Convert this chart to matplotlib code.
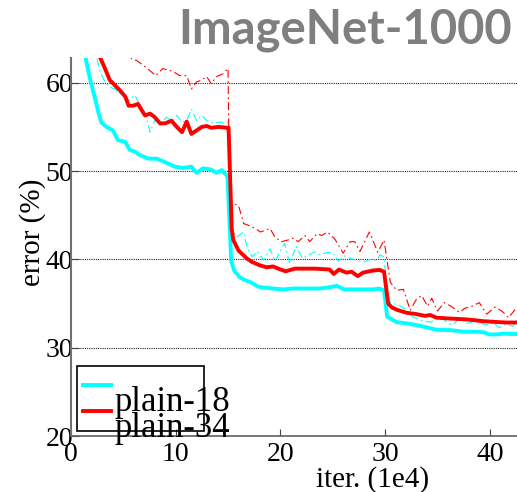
import numpy as np
import matplotlib.pyplot as plt
from matplotlib.legend_handler import HandlerLine2D
from matplotlib.patches import Rectangle

# plain-18, validation (bold cyan)
p18_val_x = [1.0, 1.4, 1.8, 2.3, 2.6, 2.9, 3.4, 4.0, 4.5, 5.2, 5.6, 6.1, 6.6, 7.4, 8.2, 9.0,
             9.9, 10.7, 11.5, 12.0, 12.6, 13.3, 13.9, 14.4, 14.95, 15.3, 15.6, 16.1, 16.6, 17.1,
             17.9, 18.4, 19.3, 20.3, 21.2, 22.2, 23.1, 23.8, 24.5, 25.4, 26.1, 27.0, 27.9, 28.9,
             29.4, 29.9, 30.2, 30.5, 31.1, 31.7, 32.4, 33.0, 33.6, 34.3, 34.9, 35.6, 36.2, 36.9,
             37.5, 38.2, 38.8, 39.4, 40.0, 40.7, 41.3, 42.0, 42.6]
p18_val_y = [67.0, 62.8, 60.5, 58.2, 56.7, 55.5, 55.0, 54.6, 53.5, 53.3, 52.4, 52.2, 51.8, 51.4,
             51.4, 51.0, 50.5, 50.35, 50.5, 49.8, 50.3, 50.2, 49.8, 50.1, 49.4, 39.8, 38.7, 38.0,
             37.65, 37.45, 36.9, 36.8, 36.7, 36.6, 36.7, 36.7, 36.7, 36.7, 36.8, 37.0, 36.6, 36.6,
             36.6, 36.6, 36.7, 36.5, 33.5, 33.3, 32.9, 32.8, 32.7, 32.55, 32.4, 32.2, 32.05, 32.0,
             32.0, 31.9, 31.8, 31.8, 31.8, 31.75, 31.5, 31.5, 31.6, 31.55, 31.55]

# plain-34, validation (bold red)
p34_val_x = [2.5, 2.77, 3.25, 3.7, 4.2, 4.7, 5.2, 5.5, 5.95, 6.4, 6.75, 7.07, 7.55, 8.0, 8.5,
             9.0, 9.6, 10.1, 10.6, 11.05, 11.5, 12.0, 12.5, 12.95, 13.4, 14.1, 14.9, 15.05, 15.35,
             15.5, 16.0, 16.8, 17.3, 18.1, 18.7, 19.3, 19.8, 20.5, 21.4, 22.5, 23.3, 24.7, 25.1,
             25.6, 26.3, 26.8, 27.4, 27.9, 28.9, 29.5, 29.9, 30.3, 30.6, 31.1, 32.05, 33.0, 33.8,
             34.3, 34.9, 36.2, 37.8, 39.4, 40.7, 41.6, 42.6]
p34_val_y = [64.5, 62.9, 61.6, 60.3, 59.7, 59.1, 58.4, 57.4, 57.4, 57.6, 56.9, 56.3, 56.5, 56.1,
             55.4, 55.4, 55.7, 55.0, 54.4, 55.6, 54.2, 54.6, 55.0, 55.1, 54.9, 55.0, 54.9, 54.9,
             43.5, 42.2, 41.0, 40.1, 39.7, 39.3, 39.1, 39.2, 38.95, 38.65, 38.95, 38.95, 38.95,
             38.85, 38.35, 38.85, 38.5, 38.6, 38.1, 38.5, 38.75, 38.8, 38.6, 35.0, 34.6, 34.3,
             33.95, 33.8, 33.6, 33.7, 33.4, 33.3, 33.2, 33.0, 32.9, 32.85, 32.85]

# plain-18, training (thin cyan)
p18_train_x = [2.2, 2.45, 2.8, 3.2, 3.7, 4.2, 4.85, 5.5, 6.1, 6.6, 7.1, 7.55, 8.0, 8.6, 9.1, 9.6,
               10.1, 10.6, 11.05, 11.5, 12.0, 12.5, 13.0, 13.6, 14.2, 14.7, 15.0, 15.2, 15.5, 15.8,
               16.5, 16.8, 17.3, 17.8, 18.4, 19.0, 19.5, 20.0, 20.4, 20.9, 21.5, 22.1, 22.7, 23.3,
               23.8, 24.5, 25.05, 25.5, 26.1, 26.7, 27.3, 27.9, 28.6, 29.2, 29.5, 29.9, 30.3, 30.8,
               31.5, 32.1, 32.6, 33.1, 33.65, 34.4, 35.0, 35.7, 36.4, 37.1, 37.9, 38.7, 39.4, 40.0,
               40.3, 40.9, 41.6, 42.2, 42.6]
p18_train_y = [64.5, 62.9, 61.2, 60.2, 59.5, 59.3, 58.6, 58.0, 58.6, 57.4, 56.5, 54.4, 55.75,
               55.3, 56.1, 55.7, 56.3, 55.55, 55.7, 57.0, 55.7, 56.3, 55.7, 55.4, 55.55, 55.4,
               55.55, 44.5, 43.3, 42.5, 43.1, 41.4, 40.3, 40.9, 39.9, 41.2, 39.8, 41.0, 41.8, 39.5,
               41.5, 40.1, 40.5, 40.85, 40.5, 40.8, 40.7, 39.8, 40.4, 40.1, 39.9, 39.7, 40.0, 39.9,
               40.5, 40.3, 35.2, 35.0, 34.7, 34.2, 33.5, 33.3, 33.0, 32.9, 33.45, 33.1, 32.55, 33.3,
               32.75, 33.1, 32.7, 32.55, 32.9, 32.25, 32.7, 32.4, 33.1]

# plain-34, training (thin red)
p34_train_x = [5.3, 5.8, 6.3, 7.1, 8.1, 8.75, 9.7, 10.4, 11.05, 11.5, 12.0, 12.5, 12.95, 13.4,
               13.9, 14.5, 15.0, 15.15, 15.5, 16.0, 16.5, 17.3, 18.1, 19.0, 19.5, 20.1, 20.75,
               21.2, 21.7, 22.35, 22.8, 23.5, 23.95, 24.5, 25.2, 26.0, 26.65, 27.1, 27.6, 28.5,
               29.3, 29.9, 30.5, 31.1, 31.75, 32.4, 33.0, 33.5, 34.05, 34.45, 35.0, 35.65, 36.3,
               37.1, 37.6, 38.3, 39.0, 39.7, 40.5, 41.2, 41.8, 42.6]
p34_train_y = [64.0, 62.7, 62.5, 61.8, 60.8, 61.6, 61.3, 60.8, 60.8, 59.3, 60.1, 60.3, 60.7, 59.9,
               60.7, 61.0, 61.6, 46.2, 46.3, 46.1, 44.05, 43.7, 43.1, 43.5, 42.5, 42.0, 42.2, 42.4,
               42.0, 42.7, 42.0, 42.9, 42.7, 43.1, 42.3, 40.7, 42.0, 42.0, 40.9, 43.1, 40.8, 42.2,
               37.4, 36.5, 36.6, 34.25, 35.5, 35.9, 34.7, 35.6, 34.15, 35.1, 34.7, 34.0, 34.45,
               34.7, 35.1, 33.8, 34.6, 34.1, 33.4, 34.6]

x_ticks = [0, 10, 20, 30, 40]
y_ticks = [20, 30, 40, 50, 60]

CYAN = "#00ffff"
RED = "#ff0000"
dashdot = (0, (7, 3, 1.5, 3))

plt.rcParams["font.family"] = ["Liberation Serif", "DejaVu Serif"]

fig = plt.figure(figsize=(5.17, 4.92), dpi=100)
ax = fig.add_axes([71 / 517, 56 / 492, 446 / 517, 378 / 492])

ax.plot(p18_train_x, p18_train_y, color=CYAN, lw=0.8, linestyle=dashdot)
ax.plot(p34_train_x, p34_train_y, color=RED, lw=0.8, linestyle=dashdot)
l18, = ax.plot(p18_val_x, p18_val_y, color=CYAN, lw=2.8, solid_joinstyle="round")
l34, = ax.plot(p34_val_x, p34_val_y, color=RED, lw=2.8, solid_joinstyle="round")

ax.set_xlim(0, 42.6)
ax.set_ylim(20, 62.8)
ax.set_xticks(x_ticks)
ax.set_yticks(y_ticks)
ax.tick_params(axis="both", direction="in", labelsize=20, color="#404040")
ax.tick_params(axis="y", length=6, pad=-1.5)
ax.tick_params(axis="x", length=5, pad=4)

ax.yaxis.grid(True, color="#222222", linestyle=(0, (1, 1)), lw=0.8)
for side in ["top", "right"]:
    ax.spines[side].set_visible(False)
ax.spines["left"].set_color("#707070")
ax.spines["left"].set_linewidth(1.5)
ax.spines["bottom"].set_color("#606060")
ax.spines["bottom"].set_linewidth(1.2)

ax.set_xlabel("iter. (1e4)", fontsize=21)
ax.xaxis.set_label_coords(0.677, -0.08)
ax.set_ylabel("error (%)", fontsize=21)
ax.yaxis.set_label_coords(-0.055, 0.54)


class RaisedLine(HandlerLine2D):
    # legend swatch sits at the top of its label, as in the original
    def create_artists(self, legend, orig_handle, xdescent, ydescent, width, height, fontsize, trans):
        arts = super().create_artists(legend, orig_handle, xdescent, ydescent, width, height, fontsize, trans)
        for a in arts:
            a.set_ydata(np.asarray(a.get_ydata()) + 0.42 * fontsize)
        return arts


leg = ax.legend([l18, l34], ["plain-18", "plain-34"], loc="lower left",
                bbox_to_anchor=(0.027, -0.025), frameon=False, fontsize=25,
                handlelength=0.8, handletextpad=0.1, labelspacing=-0.2,
                borderpad=0, borderaxespad=0,
                handler_map={l18: RaisedLine(), l34: RaisedLine()})
ax.add_patch(Rectangle((0.0135, 0.0132), 0.2845, 0.172, transform=ax.transAxes,
                       fill=False, edgecolor="black", lw=1.2, clip_on=False, zorder=5))

fig.text(0.99, 0.912, "ImageNet-1000", ha="right", va="baseline",
         fontsize=34, fontweight="bold", color="#7f7f7f", family="Lato")

fig.savefig("out.png", dpi=100)
